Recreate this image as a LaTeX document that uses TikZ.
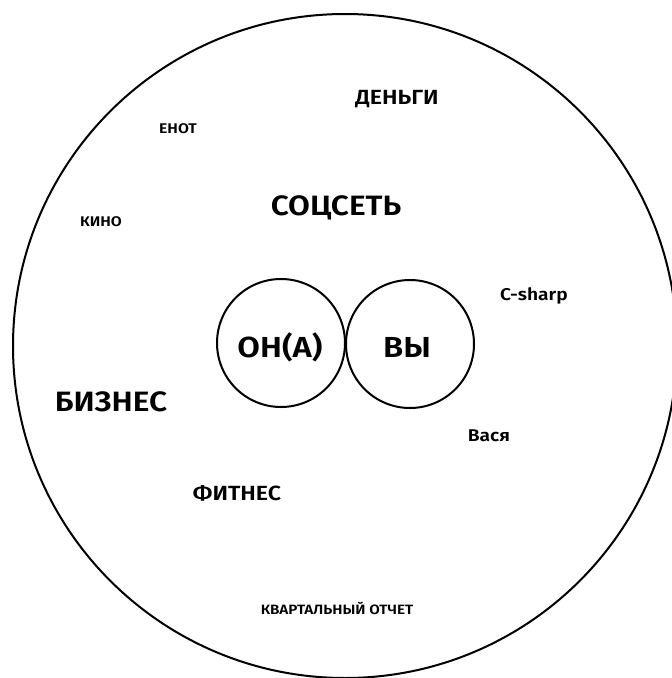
\documentclass[tikz,border=0pt]{standalone}
\usepackage{fontspec}
\setmainfont{Fira Sans}[UprightFont=* SemiBold, FakeStretch=1.13]
\begin{document}
\begin{tikzpicture}[x=1pt,y=-1pt,
  ring/.style={draw=black,line width=2pt,circle,inner sep=0pt},
  lbl/.style={inner sep=0pt,anchor=center}]
\useasboundingbox (0,0) rectangle (672,678);
\clip (0,0) rectangle (672,678);
\node[ring,minimum size=664pt] (world) at (345,346) {};
\node[ring,minimum size=128pt] (ona) at (281,343) {};
\node[ring,minimum size=128pt] (vy) at (410,344) {};
\node[lbl,font=\fontsize{29}{29}\selectfont] (onat) at (280,347) {ОН(А)};
\node[lbl,font=\fontsize{29}{29}\selectfont] (vyt) at (407,347) {ВЫ};
\node[lbl,font=\fontsize{28}{28}\selectfont] (soc) at (336,208) {СОЦСЕТЬ};
\node[lbl,font=\fontsize{28}{28}\selectfont] (biz) at (111,402) {БИЗНЕС};
\node[lbl,font=\fontsize{20.5}{20.5}\selectfont] (money) at (397,99) {ДЕНЬГИ};
\node[lbl,font=\fontsize{20.5}{20.5}\selectfont] (fit) at (237,493) {ФИТНЕС};
\node[lbl,font=\fontsize{17}{17}\selectfont] (cs) at (534,296) {C-sharp};
\node[lbl,font=\fontsize{17}{17}\selectfont] (vasya) at (489,436) {Вася};
\node[lbl,font=\fontsize{14}{14}\selectfont] (enot) at (178,129) {ЕНОТ};
\node[lbl,font=\fontsize{14}{14}\selectfont] (kino) at (101,222) {КИНО};
\node[lbl,font=\fontsize{13.5}{13.5}\selectfont] (kv) at (337,608) {КВАРТАЛЬНЫЙ ОТЧЕТ};
\end{tikzpicture}
\end{document}
